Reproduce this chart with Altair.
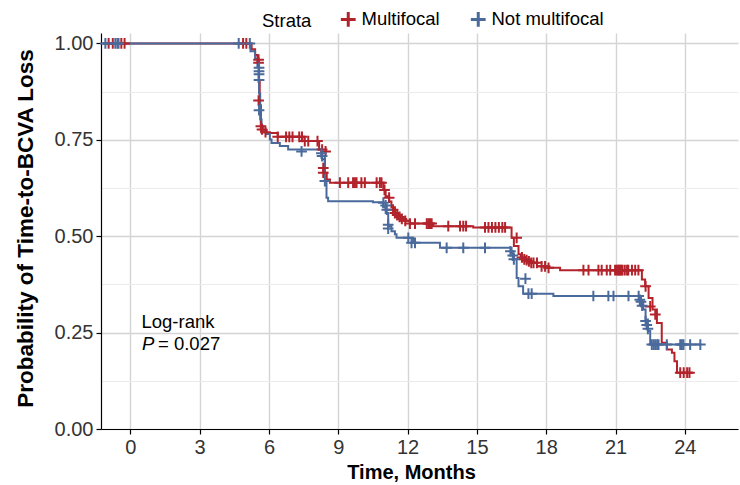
import altair as alt
import pandas as pd

# ---------------- data ----------------
strata = ["Multifocal", "Not multifocal"]

# Kaplan-Meier step curve: Multifocal
mf_time = [-1.2, 5.25, 5.4, 5.5, 5.55, 5.6, 5.65, 5.7, 5.9, 6.38, 7.45, 8.17, 8.3, 8.42, 8.5, 8.64,
           10.95, 11.05, 11.2, 11.3, 11.45, 11.6, 11.8, 12.1, 13.1, 14.84, 16.5, 16.6, 16.8, 16.9,
           17.1, 17.3, 17.6, 18.0, 18.6, 22.14, 22.28, 22.43, 22.6, 22.79, 23.0, 23.22, 23.44,
           23.55, 23.66, 24.35]
mf_surv = [1.0, 0.985, 0.97, 0.955, 0.9, 0.84, 0.79, 0.775, 0.768, 0.758, 0.747, 0.725, 0.70, 0.665,
           0.647, 0.639, 0.62, 0.604, 0.59, 0.575, 0.56, 0.55, 0.54, 0.533, 0.526, 0.523, 0.496,
           0.475, 0.453, 0.445, 0.438, 0.431, 0.422, 0.418, 0.412, 0.388, 0.37, 0.34, 0.31, 0.275,
           0.224, 0.206, 0.198, 0.176, 0.146, 0.146]

# Kaplan-Meier step curve: Not multifocal
nm_time = [-1.2, 5.2, 5.4, 5.5, 5.57, 5.62, 5.68, 5.75, 5.89, 6.04, 6.11, 6.47, 6.83, 8.27, 8.42,
           8.49, 8.56, 10.5, 10.95, 11.05, 11.16, 11.3, 11.45, 11.52, 12.24, 13.4, 16.5, 16.6,
           16.72, 16.8, 17.0, 18.31, 22.1, 22.2, 22.3, 22.4, 22.5, 24.7]
nm_surv = [1.0, 0.98, 0.96, 0.94, 0.87, 0.803, 0.785, 0.77, 0.765, 0.751, 0.742, 0.734, 0.725,
           0.708, 0.643, 0.60, 0.591, 0.588, 0.575, 0.56, 0.526, 0.513, 0.505, 0.496, 0.483, 0.47,
           0.455, 0.44, 0.392, 0.37, 0.351, 0.345, 0.33, 0.31, 0.284, 0.254, 0.219, 0.219]

# censoring marks: Multifocal
mf_cens_time = [-0.94, -0.76, -0.39, -0.25, 4.88, 5.02, 5.55, 5.55, 5.55, 5.65, 5.7, 5.85,
                6.38, 6.74, 6.88, 7.02, 7.31, 7.43, 7.55, 7.7, 8.1, 8.3, 8.45, 8.35, 8.35,
                9.07, 9.43, 9.64, 9.72, 9.79, 10.0, 10.15, 10.66, 10.8, 10.87,
                11.0, 11.2, 11.37, 11.45, 11.55, 11.65, 11.75, 11.9, 12.1, 12.32, 12.83, 12.9,
                12.97, 13.04, 13.76, 14.27, 14.41, 14.53, 15.35, 15.5, 15.65, 15.8, 15.95, 16.1,
                16.22, 16.72, 16.95, 17.05, 17.15, 17.25, 17.35, 17.45, 17.6, 17.8, 17.95, 18.1,
                19.61, 19.83, 20.26, 20.4, 20.62, 20.77, 20.98, 21.05, 21.1, 21.15, 21.2, 21.25,
                21.3, 21.4, 21.5, 21.55, 21.71, 21.85, 21.99, 22.3, 22.5, 22.72,
                23.8, 23.95, 24.1, 24.2]
mf_cens_surv = [1.0, 1.0, 1.0, 1.0, 1.0, 1.0, 0.958, 0.95, 0.852, 0.785, 0.777, 0.77,
                0.758, 0.758, 0.758, 0.758, 0.758, 0.758, 0.747, 0.747, 0.747, 0.725, 0.72, 0.677, 0.665,
                0.639, 0.639, 0.639, 0.639, 0.639, 0.639, 0.639, 0.639, 0.639, 0.639,
                0.62, 0.60, 0.569, 0.56, 0.555, 0.55, 0.545, 0.54, 0.533, 0.533, 0.533, 0.533,
                0.533, 0.533, 0.526, 0.526, 0.526, 0.526, 0.523, 0.523, 0.523, 0.523, 0.523, 0.523,
                0.523, 0.496, 0.445, 0.44, 0.438, 0.435, 0.431, 0.431, 0.431, 0.422, 0.422, 0.418,
                0.412, 0.412, 0.412, 0.412, 0.412, 0.412, 0.412, 0.412, 0.412, 0.412, 0.412, 0.412,
                0.412, 0.412, 0.412, 0.412, 0.412, 0.412, 0.412, 0.37, 0.318, 0.297,
                0.146, 0.146, 0.146, 0.146]

# censoring marks: Not multifocal
nm_cens_time = [-1.08, -0.65, -0.56, -0.51, 4.69, 5.17, 5.57, 5.57, 5.57, 5.57, 5.57,
                7.41, 8.27, 8.3, 8.42, 10.95, 11.05, 11.1, 11.16, 11.16,
                12.03, 12.17, 12.32, 13.69, 14.41, 15.35, 16.45, 16.55, 16.6, 17.1, 17.23, 17.37,
                20.04, 20.69, 20.91, 21.56, 22.0, 22.05, 22.1, 22.15, 22.3, 22.35, 22.4,
                22.57, 22.65, 22.72, 22.8, 22.86, 23.22, 23.8, 23.87, 23.94, 24.23, 24.67]
nm_cens_surv = [1.0, 1.0, 1.0, 1.0, 1.0, 1.0, 0.937, 0.928, 0.92, 0.905, 0.827,
                0.72, 0.715, 0.708, 0.643, 0.587, 0.58, 0.569, 0.53, 0.52,
                0.496, 0.483, 0.483, 0.47, 0.47, 0.47, 0.461, 0.45, 0.44, 0.39, 0.351, 0.351,
                0.345, 0.345, 0.345, 0.345, 0.345, 0.335, 0.33, 0.32, 0.28, 0.27, 0.26,
                0.219, 0.219, 0.219, 0.219, 0.219, 0.219, 0.219, 0.219, 0.219, 0.219, 0.219]

x_grid = [0, 1.5, 3, 4.5, 6, 7.5, 9, 10.5, 12, 13.5, 15, 16.5, 18, 19.5, 21, 22.5, 24, 25.5]
y_grid = [0, 0.125, 0.25, 0.375, 0.5, 0.625, 0.75, 0.875, 1.0]

annot_line1 = "Log-rank"
annot_p = "P"
annot_val = "= 0.027"

# ---------------- build tables ----------------
curves = pd.concat([
    pd.DataFrame({"time": mf_time, "surv": mf_surv, "strata": strata[0]}),
    pd.DataFrame({"time": nm_time, "surv": nm_surv, "strata": strata[1]}),
])
cens = pd.concat([
    pd.DataFrame({"time": mf_cens_time, "surv": mf_cens_surv, "strata": strata[0]}),
    pd.DataFrame({"time": nm_cens_time, "surv": nm_cens_surv, "strata": strata[1]}),
])

FONT = "Liberation Sans, Arial, sans-serif"
RED = "#B2232B"
BLUE = "#4A6A9C"
PLUS = "M-1,0H1M0,-1V1"

color_scale = alt.Scale(domain=strata, range=[RED, BLUE])
x_scale = alt.Scale(domain=[-1.27, 26.3], nice=False, zero=False)
y_scale = alt.Scale(domain=[0, 1.0272], nice=False, zero=False)

x_axis = alt.Axis(
    values=x_grid,
    labelExpr="datum.value % 3 === 0 ? format(datum.value, 'd') : ''",
    title="Time, Months",
    gridColor={"condition": {"test": "datum.value % 3 === 0", "value": "#d4d4d4"}, "value": "#ebebeb"},
    gridWidth={"condition": {"test": "datum.value % 3 === 0", "value": 1.4}, "value": 1.0},
    tickColor={"condition": {"test": "datum.value % 3 === 0", "value": "#000000"}, "value": "rgba(0,0,0,0)"},
    titleFontSize=20,
    titleX=310,
    titleY=49,
    titleAlign="center",
    titleBaseline="alphabetic",
)
y_axis = alt.Axis(
    values=y_grid,
    labelExpr="datum.value % 0.25 === 0 ? format(datum.value, '.2f') : ''",
    title="Probability of Time-to-BCVA Loss",
    gridColor={"condition": {"test": "datum.value % 0.25 === 0", "value": "#d4d4d4"}, "value": "#ebebeb"},
    gridWidth={"condition": {"test": "datum.value % 0.25 === 0", "value": 1.4}, "value": 1.0},
    tickColor={"condition": {"test": "datum.value % 0.25 === 0", "value": "#000000"}, "value": "rgba(0,0,0,0)"},
    titleFontSize=22.5,
    titleX=-69,
    titleY=195,
    titleAngle=-90,
    titleAlign="center",
    titleBaseline="alphabetic",
)

legend = alt.Legend(
    title="Strata",
    orient="none",
    legendX=161,
    legendY=-23,
    direction="horizontal",
    titleOrient="left",
    titleFontSize=18.5,
    titleFontWeight="normal",
    titleColor="#000000",
    titlePadding=27,
    labelFontSize=18.5,
    labelColor="#000000",
    labelOffset=4,
    columnPadding=24,
    symbolType=PLUS,
    symbolSize=220,
    symbolStrokeWidth=3,
)

lines = alt.Chart(curves).mark_line(interpolate="step-after", strokeWidth=2, clip=True).encode(
    x=alt.X("time:Q", scale=x_scale, axis=x_axis),
    y=alt.Y("surv:Q", scale=y_scale, axis=y_axis),
    color=alt.Color("strata:N", scale=color_scale, legend=legend),
    detail="strata:N",
    order="time:Q",
)

points = alt.Chart(cens).mark_point(shape=PLUS, filled=False, size=115, strokeWidth=2, opacity=1).encode(
    x=alt.X("time:Q", scale=x_scale),
    y=alt.Y("surv:Q", scale=y_scale),
    color=alt.Color("strata:N", scale=color_scale, legend=legend),
)

txt1 = alt.Chart(pd.DataFrame({"t": [annot_line1]})).mark_text(
    font=FONT, fontSize=18.5, align="center", baseline="alphabetic", color="#000000"
).encode(x=alt.value(77), y=alt.value(295), text="t:N")
txt2 = alt.Chart(pd.DataFrame({"t": [annot_p]})).mark_text(
    font=FONT, fontSize=18.5, fontStyle="italic", align="left", baseline="alphabetic", color="#000000"
).encode(x=alt.value(41), y=alt.value(317), text="t:N")
txt3 = alt.Chart(pd.DataFrame({"t": [annot_val]})).mark_text(
    font=FONT, fontSize=18.5, align="left", baseline="alphabetic", color="#000000"
).encode(x=alt.value(57), y=alt.value(317), text="t:N")

chart = alt.layer(lines, points, txt1, txt2, txt3).properties(
    width=637,
    height=396,
    padding={"left": 101, "top": 33, "right": 2, "bottom": 56},
    autosize=alt.AutoSizeParams(type="none"),
    background="white",
).configure_view(stroke=None).configure_axis(
    labelFont=FONT,
    titleFont=FONT,
    labelFontSize=20,
    titleFontWeight="bold",
    labelColor="#333333",
    titleColor="#000000",
    domainColor="#000000",
    domainWidth=1.2,
    tickSize=5,
    tickWidth=1.2,
    labelPadding=3,
).configure_legend(
    labelFont=FONT,
    titleFont=FONT,
)

chart.save("out.html", embed_options={"renderer": "svg", "actions": False})
